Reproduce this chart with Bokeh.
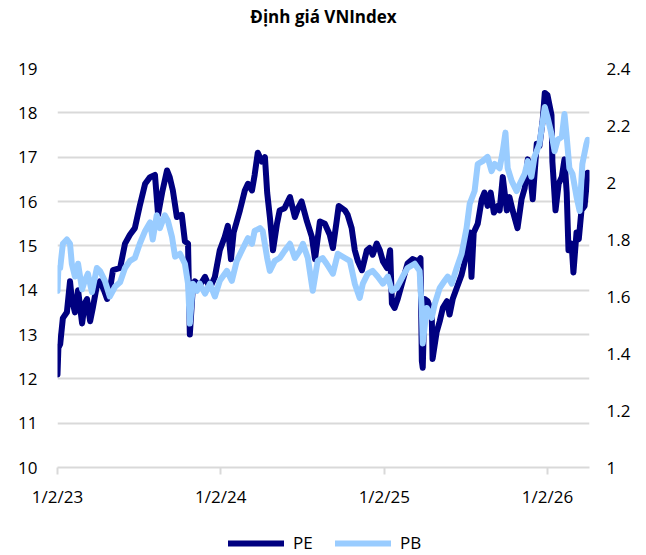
import pandas as pd
from bokeh.plotting import figure
from bokeh.layouts import column
from bokeh.models import (Range1d, LinearAxis, FixedTicker, NumeralTickFormatter,
                          Legend, LegendItem, ColumnDataSource, Title)
from bokeh.embed import file_html
from bokeh.resources import INLINE

title_text = "Định giá VNIndex"
x_tick_dates = ["2023-01-02", "2024-01-02", "2025-01-02", "2026-01-02"]
x_tick_labels = ["1/2/23", "1/2/24", "1/2/25", "1/2/26"]
x_start, x_end = "2023-01-02", "2026-04-06"
pe_ticks = [10, 11, 12, 13, 14, 15, 16, 17, 18, 19]
pb_ticks = [1.0, 1.2, 1.4, 1.6, 1.8, 2.0, 2.2, 2.4]
series_names = ["PE", "PB"]

pe_dates = ["2023-01-02", "2023-01-04", "2023-01-08", "2023-01-14", "2023-01-23", "2023-01-30", "2023-02-03",
            "2023-02-10", "2023-02-17", "2023-02-26", "2023-03-04", "2023-03-09", "2023-03-16", "2023-03-22",
            "2023-03-31", "2023-04-07", "2023-04-16", "2023-04-23", "2023-04-29", "2023-05-06", "2023-05-22",
            "2023-06-02", "2023-06-13", "2023-06-24", "2023-07-05", "2023-07-17", "2023-07-28", "2023-08-08",
            "2023-08-15", "2023-08-24", "2023-09-04", "2023-09-10", "2023-09-17", "2023-09-26", "2023-10-07",
            "2023-10-14", "2023-10-21", "2023-10-25", "2023-11-01", "2023-11-05", "2023-11-16", "2023-11-28",
            "2023-12-09", "2023-12-20", "2023-12-31", "2024-01-11", "2024-01-18", "2024-01-25", "2024-01-31",
            "2024-02-07", "2024-02-14", "2024-02-25", "2024-03-03", "2024-03-12", "2024-03-18", "2024-03-25",
            "2024-04-03", "2024-04-10", "2024-04-15", "2024-04-21", "2024-04-28", "2024-05-07", "2024-05-13",
            "2024-05-24", "2024-06-05", "2024-06-16", "2024-06-23", "2024-07-01", "2024-07-13", "2024-07-24",
            "2024-07-31", "2024-08-11", "2024-08-22", "2024-09-02", "2024-09-09", "2024-09-18", "2024-09-22",
            "2024-10-06", "2024-10-12", "2024-10-21", "2024-10-28", "2024-11-04", "2024-11-13", "2024-11-24",
            "2024-11-30", "2024-12-07", "2024-12-16", "2024-12-23", "2024-12-30", "2025-01-08", "2025-01-15",
            "2025-01-19", "2025-01-25", "2025-02-01", "2025-02-12", "2025-02-23", "2025-03-06", "2025-03-18",
            "2025-03-24", "2025-03-27", "2025-03-29", "2025-04-02", "2025-04-09", "2025-04-18", "2025-04-20",
            "2025-04-29", "2025-05-06", "2025-05-13", "2025-05-22", "2025-05-28", "2025-06-04", "2025-06-13",
            "2025-06-24", "2025-07-01", "2025-07-05", "2025-07-12", "2025-07-16", "2025-07-21", "2025-07-30",
            "2025-08-08", "2025-08-14", "2025-08-21", "2025-08-28", "2025-09-04", "2025-09-13", "2025-09-17",
            "2025-09-24", "2025-10-03", "2025-10-09", "2025-10-16", "2025-10-27", "2025-11-05", "2025-11-12",
            "2025-11-19", "2025-11-25", "2025-11-30", "2025-12-09", "2025-12-15", "2025-12-22", "2025-12-27",
            "2026-01-02", "2026-01-11", "2026-01-13", "2026-01-20", "2026-01-27", "2026-02-03", "2026-02-09",
            "2026-02-14", "2026-02-18", "2026-02-25", "2026-03-01", "2026-03-08", "2026-03-13", "2026-03-19",
            "2026-03-26", "2026-04-02"]
pe_values = [12.1, 12.7, 12.78, 13.37, 13.5, 14.2, 13.8,
             13.5, 14.0, 13.25, 13.7, 13.8, 13.3, 13.6,
             14.1, 14.2, 14.0, 13.8, 14.0, 14.45, 14.5,
             15.05, 15.25, 15.4, 15.9, 16.4, 16.55, 16.6,
             15.7, 16.2, 16.7, 16.55, 16.25, 15.65, 15.7,
             15.1, 15.05, 13.0, 14.1, 14.2, 14.1, 14.3,
             14.05, 14.3, 14.9, 15.2, 15.45, 14.7, 15.3,
             15.55, 15.8, 16.25, 16.4, 16.25, 16.6, 17.1,
             16.9, 17.0, 16.2, 15.65, 14.9, 15.5, 15.8,
             15.85, 16.1, 15.65, 15.85, 16.0, 15.55, 15.2,
             14.7, 15.55, 15.5, 15.25, 14.95, 15.6, 15.9,
             15.8, 15.7, 15.4, 14.9, 14.65, 14.45, 14.9,
             14.95, 14.8, 15.05, 14.9, 14.65, 14.5, 14.9,
             13.7, 13.6, 13.8, 14.2, 14.6, 14.7, 14.65,
             14.72, 12.4, 12.25, 13.8, 13.75, 13.5, 12.45,
             13.05, 13.3, 13.6, 13.75, 13.45, 13.8, 14.05,
             14.35, 14.65, 15.0, 15.3, 14.3, 15.3, 15.5,
             16.05, 16.2, 15.9, 16.2, 15.75, 15.9, 15.8,
             16.55, 15.8, 16.1, 15.8, 15.4, 16.05, 16.3,
             16.95, 16.55, 16.05, 17.3, 17.25, 17.8, 18.45,
             18.4, 17.95, 16.9, 15.8, 16.4, 16.55, 16.95,
             16.2, 14.9, 15.05, 14.4, 15.3, 15.15, 15.8,
             15.9, 16.65]

pb_dates = ["2023-01-02", "2023-01-04", "2023-01-08", "2023-01-14", "2023-01-23", "2023-01-30", "2023-02-03",
            "2023-02-10", "2023-02-17", "2023-02-26", "2023-03-04", "2023-03-11", "2023-03-20", "2023-03-31",
            "2023-04-07", "2023-04-18", "2023-04-29", "2023-05-11", "2023-05-22", "2023-06-02", "2023-06-13",
            "2023-06-24", "2023-07-05", "2023-07-17", "2023-07-28", "2023-08-03", "2023-08-12", "2023-08-19",
            "2023-08-30", "2023-09-06", "2023-09-15", "2023-09-22", "2023-10-03", "2023-10-14", "2023-10-21",
            "2023-10-25", "2023-11-01", "2023-11-10", "2023-11-16", "2023-11-28", "2023-12-09", "2023-12-20",
            "2023-12-31", "2024-01-16", "2024-01-27", "2024-02-07", "2024-02-21", "2024-03-03", "2024-03-12",
            "2024-03-18", "2024-03-30", "2024-04-05", "2024-04-15", "2024-04-21", "2024-05-02", "2024-05-13",
            "2024-05-24", "2024-06-05", "2024-06-16", "2024-06-27", "2024-07-04", "2024-07-15", "2024-07-26",
            "2024-08-06", "2024-08-17", "2024-08-26", "2024-09-09", "2024-09-20", "2024-10-06", "2024-10-17",
            "2024-10-28", "2024-11-08", "2024-11-15", "2024-11-26", "2024-12-07", "2024-12-18", "2024-12-30",
            "2025-01-10", "2025-01-19", "2025-01-30", "2025-02-12", "2025-02-23", "2025-03-11", "2025-03-22",
            "2025-03-27", "2025-03-29", "2025-04-07", "2025-04-18", "2025-04-25", "2025-05-06", "2025-05-17",
            "2025-05-24", "2025-06-02", "2025-06-13", "2025-06-24", "2025-07-05", "2025-07-12", "2025-07-23",
            "2025-07-30", "2025-08-10", "2025-08-21", "2025-08-30", "2025-09-06", "2025-09-17", "2025-09-24",
            "2025-09-30", "2025-10-05", "2025-10-14", "2025-10-25", "2025-11-01", "2025-11-12", "2025-11-19",
            "2025-11-27", "2025-12-04", "2025-12-15", "2025-12-27", "2026-01-02", "2026-01-11", "2026-01-18",
            "2026-01-25", "2026-02-03", "2026-02-09", "2026-02-14", "2026-02-20", "2026-02-27", "2026-03-08",
            "2026-03-15", "2026-03-21", "2026-03-30", "2026-04-02"]
pb_values = [1.62, 1.70, 1.70, 1.785, 1.80, 1.785, 1.715,
             1.67, 1.715, 1.625, 1.655, 1.68, 1.615, 1.70,
             1.69, 1.655, 1.60, 1.635, 1.65, 1.70, 1.725,
             1.735, 1.785, 1.83, 1.86, 1.80, 1.885, 1.84,
             1.885, 1.865, 1.81, 1.74, 1.75, 1.715, 1.645,
             1.505, 1.645, 1.62, 1.645, 1.61, 1.645, 1.60,
             1.655, 1.69, 1.655, 1.725, 1.77, 1.805, 1.785,
             1.83, 1.84, 1.83, 1.735, 1.69, 1.725, 1.735,
             1.76, 1.785, 1.735, 1.76, 1.785, 1.735, 1.62,
             1.725, 1.735, 1.715, 1.68, 1.75, 1.735, 1.725,
             1.645, 1.595, 1.645, 1.68, 1.69, 1.67, 1.645,
             1.67, 1.62, 1.63, 1.67, 1.70, 1.715, 1.69,
             1.55, 1.435, 1.56, 1.525, 1.575, 1.63, 1.655,
             1.67, 1.645, 1.70, 1.75, 1.84, 1.925, 1.97,
             2.065, 2.075, 2.09, 2.04, 2.065, 2.05, 2.11,
             2.175, 2.05, 2.005, 1.97, 1.995, 2.03, 2.075,
             2.02, 2.09, 2.135, 2.265, 2.23, 2.17, 2.11,
             2.15, 2.16, 2.24, 2.16, 2.05, 2.03, 1.95,
             1.90, 2.065, 2.135, 2.15]

PE_COLOR = "#000080"
PB_COLOR = "#99CCFF"
GRID_COLOR = "#D9D9D9"
FONT = "Open Sans"

W, H1, H2 = 646, 522, 33
FL, FR, FT, FB = 57, 589, 68, 467   # frame edges in picture pixels

p = figure(width=W, height=H1, x_axis_type="datetime", output_backend="svg",
           toolbar_location=None,
           x_range=Range1d(pd.Timestamp(x_start), pd.Timestamp(x_end)),
           y_range=Range1d(10, 19),
           min_border_left=FL, min_border_right=W - FR,
           min_border_top=FT, min_border_bottom=H1 - FB)
p.extra_y_ranges = {"pb": Range1d(1, 2.4)}
p.outline_line_color = None
p.background_fill_color = "white"

# spacer between frame and title, then the title (outermost)
p.add_layout(Title(text=" ", text_font_size="1px", standoff=36), "above")
p.title.text = title_text
p.title.align = "center"
p.title.text_font = FONT
p.title.text_font_style = "bold"
p.title.text_font_size = "17px"
p.title.text_color = "#000000"
p.title.standoff = 4

pe_src = ColumnDataSource(dict(x=pd.to_datetime(pe_dates), y=pe_values))
pb_src = ColumnDataSource(dict(x=pd.to_datetime(pb_dates), y=pb_values))
r_pe = p.line("x", "y", source=pe_src, line_color=PE_COLOR, line_width=6,
              line_join="round", line_cap="round")
r_pb = p.line("x", "y", source=pb_src, line_color=PB_COLOR, line_width=6,
              line_join="round", line_cap="round", y_range_name="pb")

# grid
p.xgrid.visible = False
p.ygrid.ticker = FixedTicker(ticks=pe_ticks)
p.ygrid.grid_line_color = GRID_COLOR
p.ygrid.grid_line_width = 2

# x axis
xt = [int(pd.Timestamp(d).value // 10**6) for d in x_tick_dates]
xax = p.xaxis[0]
xax.ticker = FixedTicker(ticks=xt)
xax.major_label_overrides = {t: lab for t, lab in zip(xt, x_tick_labels)}
xax.axis_line_color = GRID_COLOR
xax.axis_line_width = 2
xax.major_tick_line_color = GRID_COLOR
xax.major_tick_line_width = 2
xax.major_tick_in = 0
xax.major_tick_out = 7
xax.minor_tick_line_color = None
xax.major_label_standoff = 10
xax.major_label_text_font = FONT
xax.major_label_text_font_size = "17px"
xax.major_label_text_color = "#000000"

# left axis
yax = p.yaxis[0]
yax.ticker = FixedTicker(ticks=pe_ticks)
yax.formatter = NumeralTickFormatter(format="0")
yax.axis_line_color = None
yax.major_tick_line_color = None
yax.minor_tick_line_color = None
yax.major_tick_in = 0
yax.major_tick_out = 0
yax.major_label_standoff = 20
yax.major_label_text_font = FONT
yax.major_label_text_font_size = "17px"
yax.major_label_text_color = "#000000"

# right axis
rax = LinearAxis(y_range_name="pb", ticker=FixedTicker(ticks=pb_ticks),
                 formatter=NumeralTickFormatter(format="0.[0]"))
rax.axis_line_color = None
rax.major_tick_line_color = None
rax.minor_tick_line_color = None
rax.major_tick_in = 0
rax.major_tick_out = 0
rax.major_label_standoff = 17
rax.major_label_text_font = FONT
rax.major_label_text_font_size = "17px"
rax.major_label_text_color = "#000000"
p.add_layout(rax, "right")

# legend strip below the chart: its own small figure whose series renderers
# carry the same data (outside its visible ranges) and styles, legend in frame
lf = figure(width=W, height=H2, output_backend="svg", toolbar_location=None,
            x_range=Range1d(0, 1), y_range=Range1d(0, 1), min_border=0)
lf.axis.visible = False
lf.grid.visible = False
lf.outline_line_color = None
l_pe = lf.line("x", "y", source=pe_src, line_color=PE_COLOR, line_width=6, line_cap="round")
l_pb = lf.line("x", "y", source=pb_src, line_color=PB_COLOR, line_width=6, line_cap="round")
legend = Legend(items=[LegendItem(label=series_names[0], renderers=[l_pe]),
                       LegendItem(label=series_names[1], renderers=[l_pb])],
                orientation="horizontal", location=(171, 1),
                glyph_width=56, glyph_height=20, label_standoff=9, spacing=22,
                padding=0, margin=0, border_line_color=None,
                background_fill_alpha=0,
                label_text_font=FONT, label_text_font_size="17px",
                label_text_color="#000000")
lf.add_layout(legend, "center")

layout = column(p, lf, spacing=0)
open("out.html", "w").write(file_html(layout, INLINE))
